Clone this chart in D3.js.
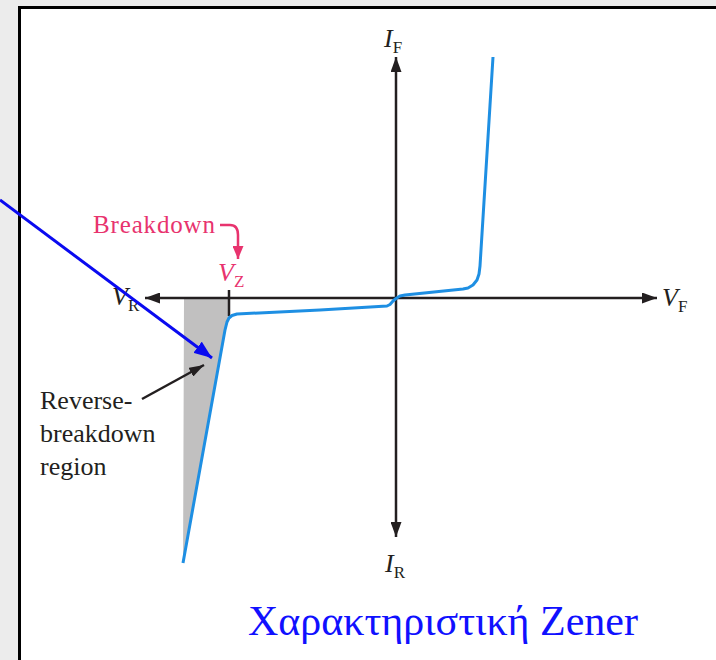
<!DOCTYPE html>
<html>
<head>
<meta charset="utf-8">
<script src="https://cdn.jsdelivr.net/npm/d3@7"></script>
<style>
  html, body { margin: 0; padding: 0; background: #ececec; }
  svg { display: block; }
</style>
</head>
<body>
<div id="chart"></div>
<script>
// Zener diode characteristic, values in arbitrary volt / mA units
const curveV = [-10.65, -8.55, -8.45, -8.35, -8.2, -7.95, -3.8, -0.45, -0.3, -0.15, 0.0, 0.2, 0.45,
    3.35, 3.6, 3.85, 4.05, 4.15, 4.2, 4.85];
const curveI = [-26.5, -3.2, -2.4, -2.0, -1.75, -1.6, -1.2, -0.8, -0.65, -0.3, -0.05, 0.2, 0.3,
    0.9, 1.0, 1.3, 1.8, 2.4, 3.2, 24.1];

// shaded reverse-breakdown region
const shadeV = [-10.6, -8.35, -8.35, -8.55, -10.65, -10.65];
const shadeI = [0, 0, -2.0, -3.2, -26.5, -27.7];

const axisV = [-12.55, 13.05];
const axisI = [-23.9, 24.1];
const vZener = -8.35;

const labelTitle = "Χαρακτηριστική Zener";
const labelBreakdown = "Breakdown";
const labelRegion = ["Reverse-", "breakdown", "region"];

const W = 716, H = 660;
const serif = "Liberation Serif";

const svg = d3.select("#chart")
    .append("svg")
    .attr("width", W)
    .attr("height", H);

// scales: origin of the axes sits at (396, 298)
const x = d3.scaleLinear().domain([-12.5, 13]).range([146, 656]);
const y = d3.scaleLinear().domain([-24, 24]).range([538, 58]);

// page background + framed white panel
svg.append("rect").attr("width", W).attr("height", H).attr("fill", "#ececec");
svg.append("rect")
    .attr("x", 19.5).attr("y", 7.5)
    .attr("width", W).attr("height", H)
    .attr("fill", "#ffffff")
    .attr("stroke", "#000")
    .attr("stroke-width", 3);

// arrow markers
const defs = svg.append("defs");
function marker(id, color, len, wid) {
    defs.append("marker")
        .attr("id", id)
        .attr("markerUnits", "userSpaceOnUse")
        .attr("viewBox", `0 ${-wid / 2} ${len} ${wid}`)
        .attr("refX", len).attr("refY", 0)
        .attr("markerWidth", len).attr("markerHeight", wid)
        .attr("orient", "auto")
        .append("path")
        .attr("d", `M0,${-wid / 2}L${len},0L0,${wid / 2}Z`)
        .attr("fill", color);
}
marker("axisHead", "#231f20", 15, 11);
marker("pinkHead", "#e8336e", 13, 11);
marker("blueHead", "#0a0af0", 18, 14);
marker("darkHead", "#231f20", 15, 10);

// shaded region
svg.append("path")
    .datum(d3.zip(shadeV, shadeI))
    .attr("fill", "#c1c0c0")
    .attr("d", d3.line().x(d => x(d[0])).y(d => y(d[1])));

// axes (arrows both ways from origin)
const axisColor = "#231f20";
[[0, 0, axisV[1], 0], [0, 0, axisV[0], 0], [0, 0, 0, axisI[1]], [0, 0, 0, axisI[0]]].forEach(a => {
    svg.append("line")
        .attr("x1", x(a[0])).attr("y1", y(a[1]))
        .attr("x2", x(a[2])).attr("y2", y(a[3]))
        .attr("stroke", axisColor)
        .attr("stroke-width", 2.5)
        .attr("marker-end", "url(#axisHead)");
});

// V_Z tick
svg.append("line")
    .attr("x1", x(vZener)).attr("x2", x(vZener))
    .attr("y1", y(0.8)).attr("y2", y(-1.8))
    .attr("stroke", axisColor)
    .attr("stroke-width", 2.5);

// diode curve
svg.append("path")
    .datum(d3.zip(curveV, curveI))
    .attr("fill", "none")
    .attr("stroke", "#1e8fe3")
    .attr("stroke-width", 3)
    .attr("stroke-linejoin", "round")
    .attr("d", d3.line().x(d => x(d[0])).y(d => y(d[1])));

// axis labels: italic letter + upright subscript
function axisLabel(px, py, main, sub, color) {
    const t = svg.append("text")
        .attr("x", px).attr("y", py)
        .attr("font-family", serif)
        .attr("fill", color || "#231f20")
        .attr("font-size", 26);
    t.append("tspan").attr("font-style", "italic").text(main);
    t.append("tspan").attr("font-size", 17).attr("dy", 6).text(sub);
}
axisLabel(x(0) - 12, y(axisI[1]) - 10, "I", "F");
axisLabel(x(0) - 11, y(axisI[0]) + 35, "I", "R");
axisLabel(x(axisV[1]) + 5, y(0) + 8, "V", "F");
axisLabel(x(axisV[0]) - 33, y(0) + 7, "V", "R");
axisLabel(x(vZener) - 11, y(0) - 17, "V", "Z", "#e8336e");

// Breakdown annotation
svg.append("text")
    .attr("x", 93).attr("y", 233)
    .attr("font-family", serif)
    .attr("fill", "#e8336e")
    .attr("font-size", 25)
    .attr("textLength", 122)
    .text(labelBreakdown);
const bk = d3.path();
bk.moveTo(x(-8.8), y(7.3));
bk.lineTo(x(-8.3), y(7.3));
bk.quadraticCurveTo(x(-7.9), y(7.3), x(-7.9), y(6.3));
bk.lineTo(x(-7.9), y(3.9));
svg.append("path")
    .attr("d", bk.toString())
    .attr("fill", "none")
    .attr("stroke", "#e8336e")
    .attr("stroke-width", 2.5)
    .attr("marker-end", "url(#pinkHead)");

// Reverse-breakdown region label + arrow
svg.append("g").selectAll("text")
    .data(labelRegion)
    .join("text")
    .attr("x", 40)
    .attr("y", (d, i) => 409 + i * 33)
    .attr("font-family", serif)
    .attr("fill", "#231f20")
    .attr("font-size", 26)
    .text(d => d);
svg.append("line")
    .attr("x1", x(-12.7)).attr("y1", y(-10.1))
    .attr("x2", x(-9.6)).attr("y2", y(-6.7))
    .attr("stroke", "#231f20")
    .attr("stroke-width", 2.5)
    .attr("marker-end", "url(#darkHead)");

// blue pointer coming from the left edge
svg.append("line")
    .attr("x1", x(-19.8)).attr("y1", y(9.8))
    .attr("x2", x(-9.2)).attr("y2", y(-6.0))
    .attr("stroke", "#0a0af0")
    .attr("stroke-width", 3)
    .attr("marker-end", "url(#blueHead)");

// title
svg.append("text")
    .attr("x", 248).attr("y", 635)
    .attr("font-family", serif)
    .attr("fill", "#1010ff")
    .attr("font-size", 42)
    .text(labelTitle);
</script>
</body>
</html>
